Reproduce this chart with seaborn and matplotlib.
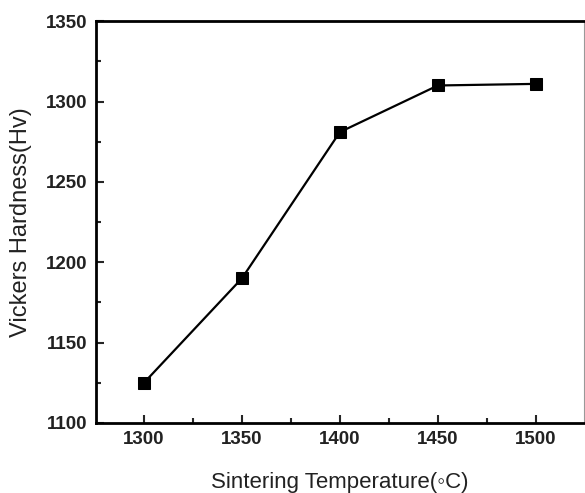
import matplotlib
matplotlib.use("Agg")
import matplotlib.pyplot as plt
import seaborn as sns
import pandas as pd
from matplotlib.ticker import MultipleLocator

temperature = [1300, 1350, 1400, 1450, 1500]
hardness = [1125, 1190, 1281, 1310, 1311]
x_ticks = [1300, 1350, 1400, 1450, 1500]
y_ticks = [1100, 1150, 1200, 1250, 1300, 1350]

sns.set_theme(style="white")
plt.rcParams['font.family'] = ['Liberation Sans', 'DejaVu Sans']

df = pd.DataFrame({"T": temperature, "H": hardness})

fig = plt.figure(figsize=(5.85, 4.93), dpi=100)
ax = fig.add_axes([0.164, 0.142, 0.834, 0.815])
sns.lineplot(data=df, x="T", y="H", ax=ax, color="black", linewidth=1.6,
             marker="s", markersize=9, markeredgecolor="black", markerfacecolor="black")

ax.set_xlim(1275.5, 1524.5)
ax.set_ylim(1100, 1350)
ax.set_xticks(x_ticks)
ax.set_yticks(y_ticks)
ax.xaxis.set_minor_locator(MultipleLocator(25))
ax.yaxis.set_minor_locator(MultipleLocator(25))
ax.tick_params(which="major", direction="in", length=6, width=1.5, labelsize=13.5, pad=6,
               bottom=True, left=True, top=False, right=False)
ax.tick_params(which="minor", direction="in", length=3.5, width=1.5,
               bottom=True, left=True, top=False, right=False)
for lab in ax.get_xticklabels() + ax.get_yticklabels():
    lab.set_fontweight("bold")
    lab.set_color("#222222")

for s in ["left", "bottom", "top"]:
    ax.spines[s].set_linewidth(2)
    ax.spines[s].set_color("black")
ax.spines["right"].set_linewidth(0.8)
ax.spines["right"].set_color("#999999")

ax.set_xlabel("Sintering Temperature(\u25e6C)", fontsize=16, color="#222222", labelpad=17)
ax.set_ylabel("Vickers Hardness(Hv)", fontsize=17, color="#222222", labelpad=10)

fig.savefig("out.png", dpi=100)
